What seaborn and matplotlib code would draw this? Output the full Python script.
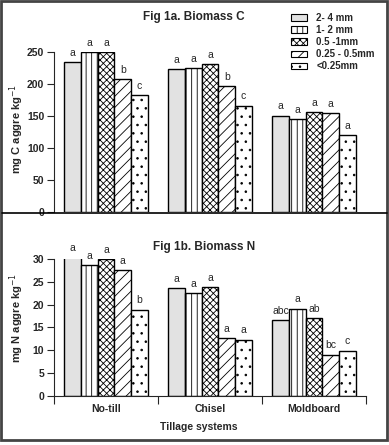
import pandas as pd
import seaborn as sns
import matplotlib.pyplot as plt
from matplotlib.patches import Patch, Rectangle
from matplotlib.lines import Line2D

sns.set_style('white')
plt.rcParams['font.family'] = ['Liberation Sans', 'DejaVu Sans']
plt.rcParams['hatch.linewidth'] = 0.6
plt.rcParams['hatch.color'] = 'black'

# data
tillage = ['No-till', 'Chisel', 'Moldboard']
sizes = ['2- 4 mm', '1- 2 mm', '0.5 -1mm', '0.25 - 0.5mm', '<0.25mm']

biomass_c = {
    '2- 4 mm':      [235, 223, 151],
    '1- 2 mm':      [250, 225.5, 145.5],
    '0.5 -1mm':     [250, 232, 156.5],
    '0.25 - 0.5mm': [207.5, 197, 154.5],
    '<0.25mm':      [183.5, 166.5, 120.5],
}
letters_c = {
    '2- 4 mm':      ['a', 'a', 'a'],
    '1- 2 mm':      ['a', 'a', 'a'],
    '0.5 -1mm':     ['a', 'a', 'a'],
    '0.25 - 0.5mm': ['b', 'b', 'a'],
    '<0.25mm':      ['c', 'c', 'a'],
}

biomass_n = {
    '2- 4 mm':      [30.4, 23.7, 16.5],
    '1- 2 mm':      [28.6, 22.5, 19.1],
    '0.5 -1mm':     [29.9, 23.9, 17.1],
    '0.25 - 0.5mm': [27.6, 12.6, 9.0],
    '<0.25mm':      [18.9, 12.3, 9.9],
}
letters_n = {
    '2- 4 mm':      ['a', 'a', 'abc'],
    '1- 2 mm':      ['a', 'a', 'a'],
    '0.5 -1mm':     ['a', 'a', 'ab'],
    '0.25 - 0.5mm': ['a', 'a', 'bc'],
    '<0.25mm':      ['b', 'a', 'c'],
}

fills = ['#e2e2e2', 'white', 'white', 'white', 'white']
hatches = [None, '|||', 'xxxxx', '///', '..']
hatch_cols = ['black', 'black', '#222222', '#666666', '#777777']


def long_table(d):
    rows = []
    for s in sizes:
        for t, v in zip(tillage, d[s]):
            rows.append({'Tillage': t, 'Size': s, 'Value': v})
    return pd.DataFrame(rows)


def style_patch(p, i):
    p.set_facecolor(fills[i])
    p.set_edgecolor('black')
    if hatches[i]:
        p.set_hatch(hatches[i])
        if hasattr(p, 'set_hatchcolor'):
            p.set_hatchcolor(hatch_cols[i])


def draw(ax, d, lett):
    sns.barplot(data=long_table(d), x='Tillage', y='Value', hue='Size',
                hue_order=sizes, order=tillage, width=0.8, ax=ax,
                edgecolor='black', linewidth=1.0, legend=False)
    for i, cont in enumerate(ax.containers):
        for bar, txt in zip(cont, lett[sizes[i]]):
            style_patch(bar, i)
            ax.annotate(txt, (bar.get_x() + bar.get_width() / 2, bar.get_height()),
                        xytext=(0, 3), textcoords='offset points',
                        ha='center', va='bottom', fontsize=7.5, annotation_clip=False)
    ax.set_xlim(-0.5, 2.5)
    ax.set_xlabel('')
    for s in ['top', 'right']:
        ax.spines[s].set_visible(False)
    ax.spines['left'].set_linewidth(0.8)
    ax.spines['bottom'].set_linewidth(0.8)
    ax.tick_params(axis='y', direction='out', length=5, width=0.8, labelsize=7.5, pad=2, left=True)
    for lab in ax.get_yticklabels():
        lab.set_fontweight('bold')


fig = plt.figure(figsize=(3.89, 4.45), dpi=100)

ax1 = fig.add_axes([0.139, 0.5236, 0.802, 0.359])
draw(ax1, biomass_c, letters_c)
ax1.set_ylim(0, 250)
ax1.set_yticks([0, 50, 100, 150, 200, 250])
ax1.spines['bottom'].set_visible(False)
ax1.set_xticks([])
ax1.set_ylabel('mg C aggre kg$^{-1}$', fontsize=8, fontweight='bold', va='center')
ax1.yaxis.set_label_coords(-0.119, 0.52)

ax2 = fig.add_axes([0.139, 0.111, 0.802, 0.307])
draw(ax2, biomass_n, letters_n)
ax2.set_ylim(0, 30)
ax2.set_yticks([0, 5, 10, 15, 20, 25, 30])
ax2.set_xticks([0, 1, 2])
ax2.set_xticklabels(tillage, fontsize=7.5, fontweight='bold')
ax2.set_xticks([-0.5, 0.5, 1.5, 2.5], minor=True)
ax2.tick_params(axis='x', which='major', length=0, pad=6)
ax2.tick_params(axis='x', which='minor', direction='out', length=6, width=0.8, bottom=True)
ax2.set_ylabel('mg N aggre kg$^{-1}$', fontsize=8, fontweight='bold', va='center')
ax2.yaxis.set_label_coords(-0.119, 0.568)

fig.text(194 / 389, 1 - 17 / 445, 'Fig 1a. Biomass C', ha='center', va='center',
         fontsize=8.5, fontweight='bold')
fig.text(204 / 389, 1 - 247 / 445, 'Fig 1b. Biomass N', ha='center', va='center',
         fontsize=8.5, fontweight='bold')
fig.text(199 / 389, 1 - 427 / 445, 'Tillage systems', ha='center', va='center',
         fontsize=7.5, fontweight='bold')

handles = []
for i in range(len(sizes)):
    h = Patch(linewidth=0.8)
    style_patch(h, i)
    handles.append(h)
fig.legend(handles, sizes, loc='upper left', bbox_to_anchor=(286 / 389, 1 - 8 / 445),
           frameon=False, prop={'size': 7, 'weight': 'bold'}, handlelength=1.7,
           handleheight=0.65, labelspacing=0.22, handletextpad=0.9, borderpad=0)

# separator and outer frame
fig.add_artist(Line2D([2 / 389, 387 / 389], [1 - 213 / 445] * 2, color='black', lw=1.2))
fig.add_artist(Rectangle((1 / 389, 5 / 445), 386 / 389, 439 / 445, fill=False,
                         edgecolor='#444444', lw=2))

fig.savefig('out.png', dpi=100)
